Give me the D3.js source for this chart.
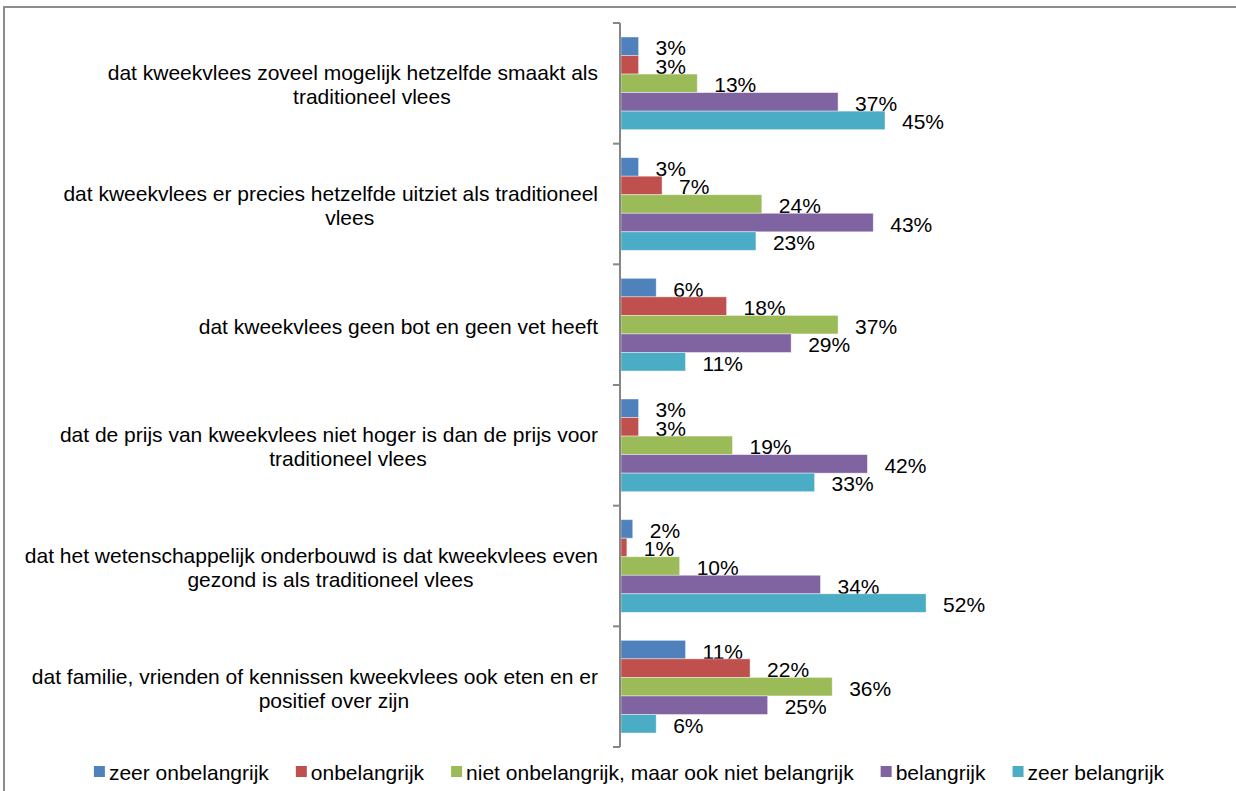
<!DOCTYPE html>
<html>
<head>
<meta charset="utf-8">
<script src="https://cdn.jsdelivr.net/npm/d3@7"></script>
<style>
  body { margin: 0; background: #fff; }
  svg { display: block; font-family: "Liberation Sans", Arial, sans-serif; }
</style>
</head>
<body>
<div id="chart"></div>
<script>
// chart values
let categories = [
    ["dat kweekvlees zoveel mogelijk hetzelfde smaakt als", "traditioneel vlees"],
    ["dat kweekvlees er precies hetzelfde uitziet als traditioneel", "vlees"],
    ["dat kweekvlees geen bot en geen vet heeft"],
    ["dat de prijs van kweekvlees niet hoger is dan de prijs voor", "traditioneel vlees"],
    ["dat het wetenschappelijk onderbouwd is dat kweekvlees even", "gezond is als traditioneel vlees"],
    ["dat familie, vrienden of kennissen kweekvlees ook eten en er", "positief over zijn"]
]
let seriesNames = ["zeer onbelangrijk", "onbelangrijk", "niet onbelangrijk, maar ook niet belangrijk", "belangrijk", "zeer belangrijk"]
let zeerOnbelangrijk = [3, 3, 6, 3, 2, 11]
let onbelangrijk = [3, 7, 18, 3, 1, 22]
let neutraal = [13, 24, 37, 19, 10, 36]
let belangrijk = [37, 43, 29, 42, 34, 25]
let zeerBelangrijk = [45, 23, 11, 33, 52, 6]
let colors = ["#4F81BD", "#C0504D", "#9BBB59", "#8064A2", "#4BACC6"]

let seriesValues = [zeerOnbelangrijk, onbelangrijk, neutraal, belangrijk, zeerBelangrijk]

let svgWidth = 1236
let svgHeight = 791
let fontSize = 21

let svg = d3.select("#chart")
    .append("svg")
    .attr("width", svgWidth)
    .attr("height", svgHeight)

// outer frame (only top and left are visible in the picture)
svg.append("rect")
    .attr("x", 4)
    .attr("y", 7)
    .attr("width", svgWidth + 20)
    .attr("height", svgHeight + 20)
    .attr("fill", "none")
    .attr("stroke", "#8c8c8c")
    .attr("stroke-width", 2)

let axisX = 621
let plotTop = 23
let plotBottom = 747

let x = d3.scaleLinear()
    .domain([0, 60])
    .range([axisX, axisX + 352])

let y = d3.scaleBand()
    .domain(d3.range(categories.length))
    .range([plotTop, plotBottom])

let ySub = d3.scaleBand()
    .domain(d3.range(seriesNames.length))
    .range([14, y.bandwidth() - 14])

// bars
let groups = svg.selectAll(".cat")
    .data(categories)
    .enter()
    .append("g")
    .attr("class", "cat")
    .attr("transform", (d, i) => `translate(0, ${y(i)})`)

groups.each(function (d, ci) {
    let g = d3.select(this)
    seriesValues.forEach(function (vals, si) {
        g.append("rect")
            .attr("x", x(0))
            .attr("y", ySub(si))
            .attr("width", x(vals[ci]) - x(0))
            .attr("height", ySub.bandwidth())
            .attr("fill", colors[si])
            .attr("stroke", "#ffffff")
            .attr("stroke-opacity", 0.5)
            .attr("stroke-width", 0.8)

        g.append("text")
            .attr("x", x(vals[ci]) + 17)
            .attr("y", ySub(si) + ySub.bandwidth() / 2 + 1.5)
            .attr("dominant-baseline", "central")
            .attr("font-size", fontSize)
            .attr("fill", "#000")
            .text(vals[ci] + "%")
    })
})

// vertical axis with ticks at band edges
let axisG = svg.append("g")
axisG.append("line")
    .attr("x1", axisX - 1).attr("x2", axisX - 1)
    .attr("y1", plotTop).attr("y2", plotBottom)
    .attr("stroke", "#868686")
    .attr("stroke-width", 2)

axisG.selectAll(".tick")
    .data(d3.range(categories.length + 1))
    .enter()
    .append("line")
    .attr("x1", axisX - 8).attr("x2", axisX - 1)
    .attr("y1", d => d < categories.length ? y(d) : plotBottom)
    .attr("y2", d => d < categories.length ? y(d) : plotBottom)
    .attr("stroke", "#868686")
    .attr("stroke-width", 2)

// category labels
let lineH = 24
let labelRight = 598
categories.forEach(function (lines, ci) {
    let cy = y(ci) + y.bandwidth() / 2 + 1
    let t = svg.append("text")
        .attr("font-size", fontSize)
        .attr("fill", "#000")
        .attr("text-anchor", "middle")
        .attr("dominant-baseline", "central")
    // measure first line to put its right end at the axis
    let probe = svg.append("text").attr("font-size", fontSize).text(lines[0])
    let w1 = probe.node().getComputedTextLength()
    probe.remove()
    let cx = labelRight - w1 / 2
    lines.forEach(function (line, li) {
        t.append("tspan")
            .attr("x", li === 0 ? cx : cx + 19)
            .attr("y", cy + (li - (lines.length - 1) / 2) * lineH)
            .text(line)
    })
})

// legend
let legend = svg.append("g")
let lx = 0
let legendGap = 27
seriesNames.forEach(function (name, si) {
    let item = legend.append("g")
    item.append("rect")
        .attr("x", 0).attr("y", -6)
        .attr("width", 11).attr("height", 11)
        .attr("fill", colors[si])
    let txt = item.append("text")
        .attr("x", 15)
        .attr("y", 0)
        .attr("font-size", fontSize)
        .attr("dominant-baseline", "central")
        .text(name)
    let w = 15 + txt.node().getComputedTextLength()
    item.attr("transform", `translate(${lx}, 0)`)
    lx += w + legendGap
})
let legendWidth = lx - legendGap
legend.attr("transform", `translate(${629 - legendWidth / 2}, 772)`)
</script>
</body>
</html>
